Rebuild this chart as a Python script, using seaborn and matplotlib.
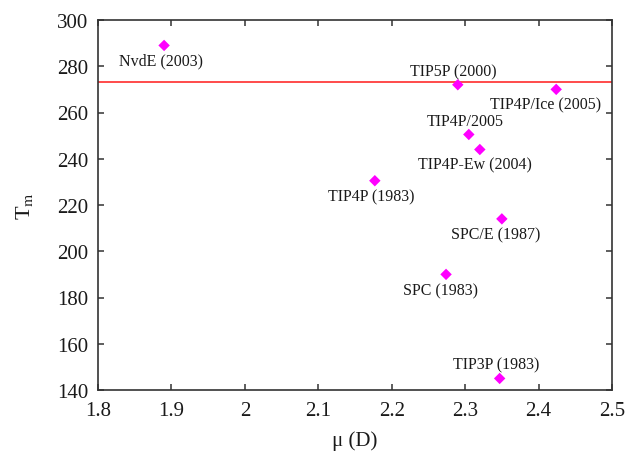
import numpy as np
import pandas as pd
import seaborn as sns
import matplotlib.pyplot as plt

# water models: dipole moment (D) vs melting temperature (K)
models = ["NvdE (2003)", "TIP5P (2000)", "TIP4P/Ice (2005)", "TIP4P/2005",
          "TIP4P-Ew (2004)", "TIP4P (1983)", "SPC/E (1987)", "SPC (1983)",
          "TIP3P (1983)"]
mu = [1.89, 2.29, 2.424, 2.305, 2.32, 2.177, 2.35, 2.274, 2.347]
tm = [289, 272, 270, 250.5, 244, 230.5, 214, 190, 145]
t_ice = 273.15

x_ticks = [1.8, 1.9, 2.0, 2.1, 2.2, 2.3, 2.4, 2.5]
x_ticklabels = ["1.8", "1.9", "2", "2.1", "2.2", "2.3", "2.4", "2.5"]
y_ticks = [140, 160, 180, 200, 220, 240, 260, 280, 300]

# label offsets in pixels from the marker (dx, dy; screen y down)
label_offsets = [(-3, 15), (-4, -13.5), (-11, 15), (-4, -13), (-4.5, 14.7),
                 (-4, 15.4), (-6, 15.3), (-5.7, 15.7), (-3.7, -14.3)]

df = pd.DataFrame({"model": models, "mu": mu, "tm": tm})

sns.set_theme(style="ticks")
plt.rcParams["font.family"] = ["Liberation Serif", "DejaVu Serif"]
plt.rcParams["mathtext.fontset"] = "stix"

EDGE = "#333333"
fig = plt.figure(figsize=(6.29, 4.52), dpi=100)
ax = fig.add_axes([98 / 629, 61 / 452, (612 - 98) / 629, (391 - 21) / 452])

ax.axhline(t_ice, color="#ff1a1a", linewidth=1.1, zorder=1)

sns.scatterplot(data=df, x="mu", y="tm", ax=ax, marker="D", s=34,
                color="#ff00ff", edgecolor="none", linewidth=0, zorder=3)

px2pt = 72 / 100
for name, xv, yv, (dx, dy) in zip(models, mu, tm, label_offsets):
    ax.annotate(name, (xv, yv), xytext=(dx * px2pt, -dy * px2pt),
                textcoords="offset points", ha="center", va="center",
                fontsize=11.5, color="#1a1a1a")

ax.set_xlim(1.8, 2.5)
ax.set_ylim(140, 300)
ax.set_xticks(x_ticks)
ax.set_xticklabels(x_ticklabels)
ax.set_yticks(y_ticks)

ax.tick_params(direction="in", length=4.5, width=1.1, color=EDGE,
               top=True, right=True, labelsize=15, labelcolor="#1a1a1a")
ax.tick_params(axis="x", pad=8)
ax.tick_params(axis="y", pad=7)
for sp in ax.spines.values():
    sp.set_visible(True)
    sp.set_color(EDGE)
    sp.set_linewidth(1.2)

ax.set_xlabel("μ (D)", fontsize=15, color="#1a1a1a", labelpad=7)
ax.set_ylabel("T$_\\mathrm{m}$", fontsize=16, color="#1a1a1a", labelpad=16)

fig.savefig("out.png", dpi=100, facecolor="white")
